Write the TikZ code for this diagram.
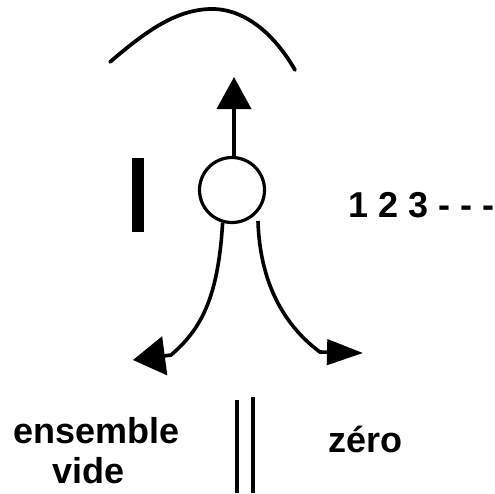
\documentclass[tikz,border=0pt]{standalone}
\usepackage{fontspec}
\setmainfont{Liberation Sans}
\usetikzlibrary{arrows.meta}
\begin{document}
\begin{tikzpicture}[x=0.75pt,y=-0.75pt,
  stroke/.style={line width=2.7pt},
  lbl/.style={anchor=base west, inner sep=0pt, font=\fontsize{27}{32}\selectfont\bfseries},
  ring/.style={circle, draw, line width=2.4pt, minimum size=48.75pt, inner sep=0pt},
  barbox/.style={fill=black, minimum width=9pt, minimum height=55.5pt, inner sep=0pt}
]
\useasboundingbox (0,0) rectangle (495,493);
% arc
\draw[line width=2.8pt, line cap=round] (110,62) .. controls (145,32) and (175,10) .. (210,9) .. controls (245,8) and (275,35) .. (295,70);
% circle
\node[ring] (c) at (232,190) {};
\coordinate (uptip) at (234,77);
\draw[line width=3pt, -{Triangle[length=24pt,width=25.5pt]}] (c.north -| uptip) -- (uptip);
% bar
\node[barbox] (bar) at (138,195) {};
% curves
\coordinate (lt) at (133,360);
\coordinate (rs) at (258,221);
\coordinate (rt) at (363,353);
\draw[stroke, -{Triangle[length=24pt,width=29pt]}] (c.254) .. controls (218,300) and (200,330) .. (171,355) -- (lt);
\draw[stroke, -{Triangle[length=27pt,width=19pt]}] (rs) .. controls (260,290) and (290,330) .. (320,352) -- (rt);
% double lines
\draw[line width=2.5pt] (237,400) -- (237,493);
\draw[line width=2.5pt] (253,397) -- (253,493);
% labels
\node[lbl] (ens) at (13,443) {ensemble};
\node[lbl] (vide) at (52,483) {vide};
\node[lbl] (zero) at (328,452) {zéro};
\node[lbl] (nums) at (348,217) {1 2 3 - - -};
\end{tikzpicture}
\end{document}
